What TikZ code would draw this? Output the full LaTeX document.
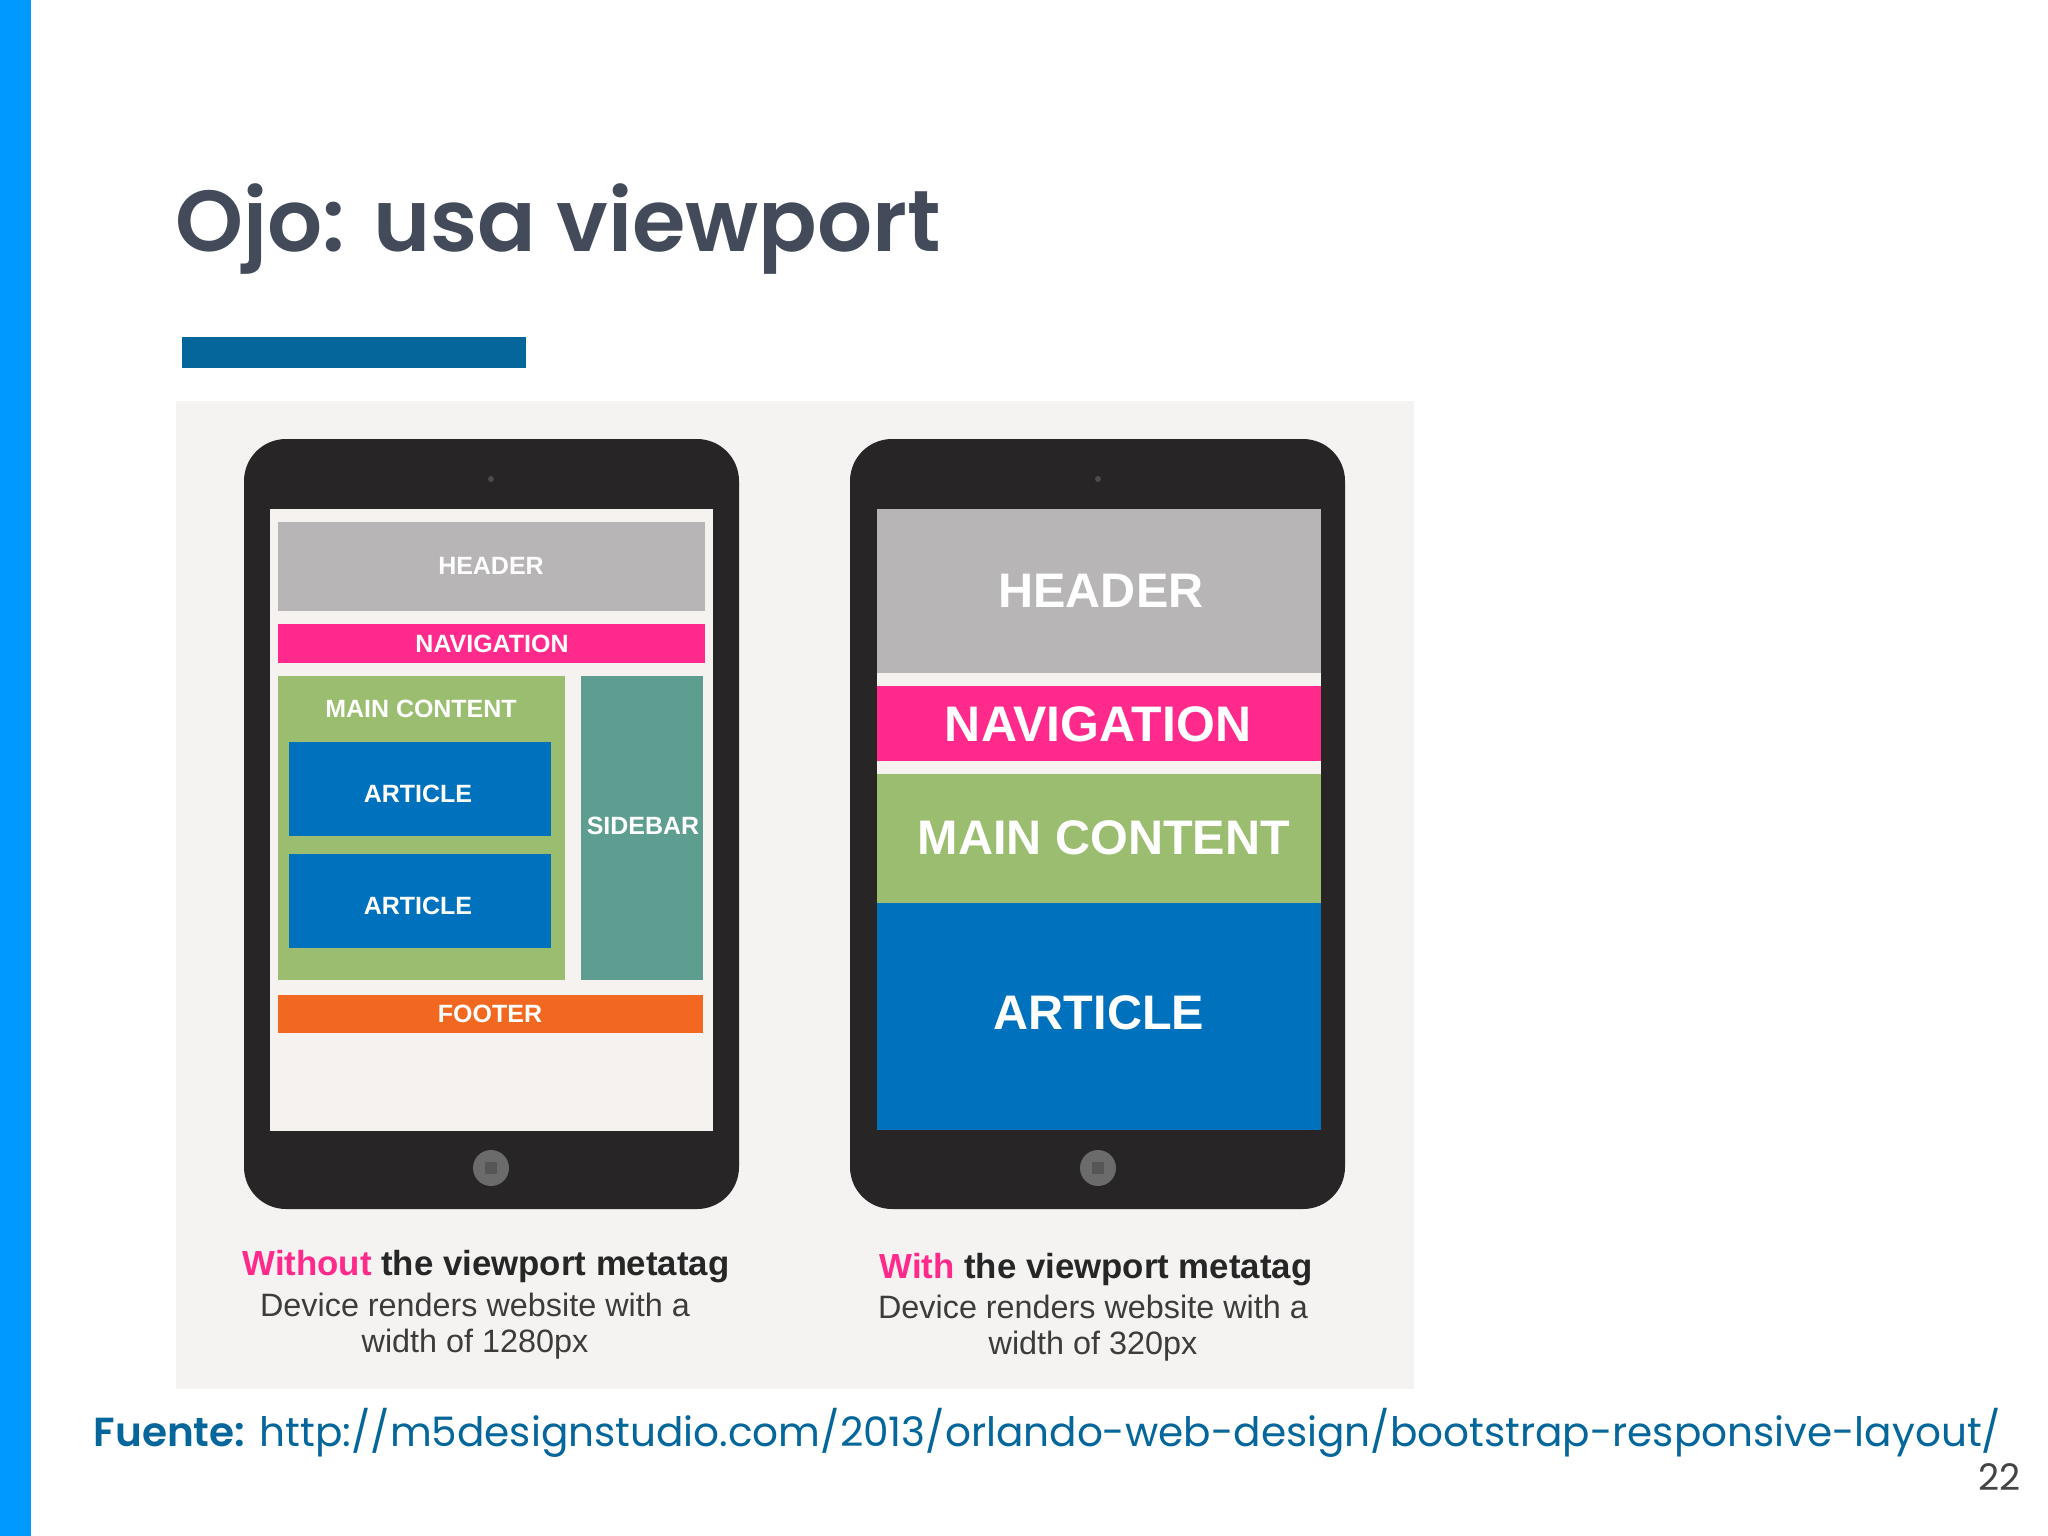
\documentclass[tikz,border=0pt]{standalone}
\usepackage{fontspec}
\setmainfont{Liberation Sans}
\newfontfamily\titlefont{Poppins}
\newfontfamily\titlesemi{Poppins SemiBold}
\definecolor{sidebarblue}{HTML}{0099FF}
\definecolor{titlegray}{HTML}{434B5A}
\definecolor{deepblue}{HTML}{04669B}
\definecolor{panelbg}{HTML}{F4F3F1}
\definecolor{screenbg}{HTML}{F6F2F0}
\definecolor{tabletdark}{HTML}{272526}
\definecolor{hdrgray}{HTML}{B7B5B6}
\definecolor{navpink}{HTML}{FF2A8B}
\definecolor{maingreen}{HTML}{9BBD6F}
\definecolor{sideteal}{HTML}{5E9E90}
\definecolor{artblue}{HTML}{0071BC}
\definecolor{footorange}{HTML}{F36821}
\definecolor{homegray}{HTML}{6B6B6B}
\definecolor{homeinner}{HTML}{565656}
\definecolor{captext}{HTML}{3C3C3C}
\definecolor{pagegray}{HTML}{444444}
\tikzset{
  x=0.01cm,y=-0.01cm,
  lab/.style={text=white,font=\bfseries\fontsize{7.1pt}{8pt}\selectfont,inner sep=0pt,anchor=center},
  labbig/.style={text=white,font=\bfseries\fontsize{13.8pt}{15pt}\selectfont,inner sep=0pt,anchor=center},
  caphead/.style={text=black!85,font=\bfseries\fontsize{9.9pt}{10pt}\selectfont,inner sep=0pt,anchor=center},
  captxt/.style={text=captext,font=\fontsize{9.2pt}{10pt}\selectfont,inner sep=0pt,anchor=center},
}
\begin{document}
\begin{tikzpicture}
\useasboundingbox (0,0) rectangle (2048,1536);
\fill[white] (0,0) rectangle (2048,1536);
\fill[sidebarblue] (0,0) rectangle (31,1536);
\node[inner sep=0pt,anchor=base west,text=titlegray,font=\titlesemi\fontsize{24.6pt}{28pt}\selectfont] (title) at (175,251) {Ojo: usa viewport};
\fill[deepblue] (182,337) rectangle (526,368);
\fill[panelbg] (176,401) rectangle (1414,1389);
% left tablet
\fill[tabletdark,rounded corners=0.42cm] (244,439) rectangle (739,1209);
\fill[screenbg] (270,509) rectangle (713,1131);
\fill[hdrgray] (278,522) rectangle (705,611);
\fill[navpink] (278,624) rectangle (705,663);
\fill[maingreen] (278,676) rectangle (565,980);
\fill[sideteal] (581,676) rectangle (703,980);
\fill[artblue] (289,742) rectangle (551,836);
\fill[artblue] (289,854) rectangle (551,948);
\fill[footorange] (278,995) rectangle (703,1033);
\node[lab] (lh) at (491,566) {HEADER};
\node[lab] (ln) at (492,644) {NAVIGATION};
\node[lab] (lm) at (421,709) {MAIN CONTENT};
\node[lab] (la1) at (418,794) {ARTICLE};
\node[lab] (la2) at (418,906) {ARTICLE};
\node[lab] (ls) at (643,826) {SIDEBAR};
\node[lab] (lf) at (490,1014) {FOOTER};
\fill[homegray] (491,1168) circle (18);
\fill[homeinner] (485,1162) rectangle (497,1174);
\fill[gray!60!black] (491,479) circle (3);
% right tablet
\fill[tabletdark,rounded corners=0.42cm] (850,439) rectangle (1345,1209);
\fill[screenbg] (877,509) rectangle (1321,1130);
\fill[hdrgray] (877,509) rectangle (1321,673);
\fill[navpink] (877,686) rectangle (1321,761);
\fill[maingreen] (877,774) rectangle (1321,903);
\fill[artblue] (877,903) rectangle (1321,1130);
\node[labbig] (rh) at (1101,591) {HEADER};
\node[labbig,font=\bfseries\fontsize{14.2pt}{15pt}\selectfont] (rn) at (1098,724) {NAVIGATION};
\node[labbig] (rm) at (1104,838) {MAIN CONTENT};
\node[labbig] (ra) at (1099,1013) {ARTICLE};
\fill[homegray] (1098,1168) circle (18);
\fill[homeinner] (1092,1162) rectangle (1104,1174);
\fill[gray!60!black] (1098,479) circle (3);
% captions
\node[caphead] (c1) at (486,1267) {\textcolor{navpink}{Without} the viewport metatag};
\node[captxt] (c2) at (475,1305) {Device renders website with a};
\node[captxt] (c3) at (475,1344) {width of 1280px};
\node[caphead] (d1) at (1096,1270) {\textcolor{navpink}{With} the viewport metatag};
\node[captxt] (d2) at (1093,1307) {Device renders website with a};
\node[captxt] (d3) at (1093,1346) {width of 320px};
% footer
\node[inner sep=0pt,anchor=base west,text=deepblue,font=\titlefont\fontsize{11.54pt}{14pt}\selectfont] (src) at (93,1446) {{\titlesemi Fuente:} http://m5designstudio.com/2013/orlando-web-design/bootstrap-responsive-layout/};
\node[inner sep=0pt,anchor=base east,text=pagegray,font=\titlefont\fontsize{10.4pt}{12pt}\selectfont] (page) at (2021,1490) {22};
\end{tikzpicture}
\end{document}
